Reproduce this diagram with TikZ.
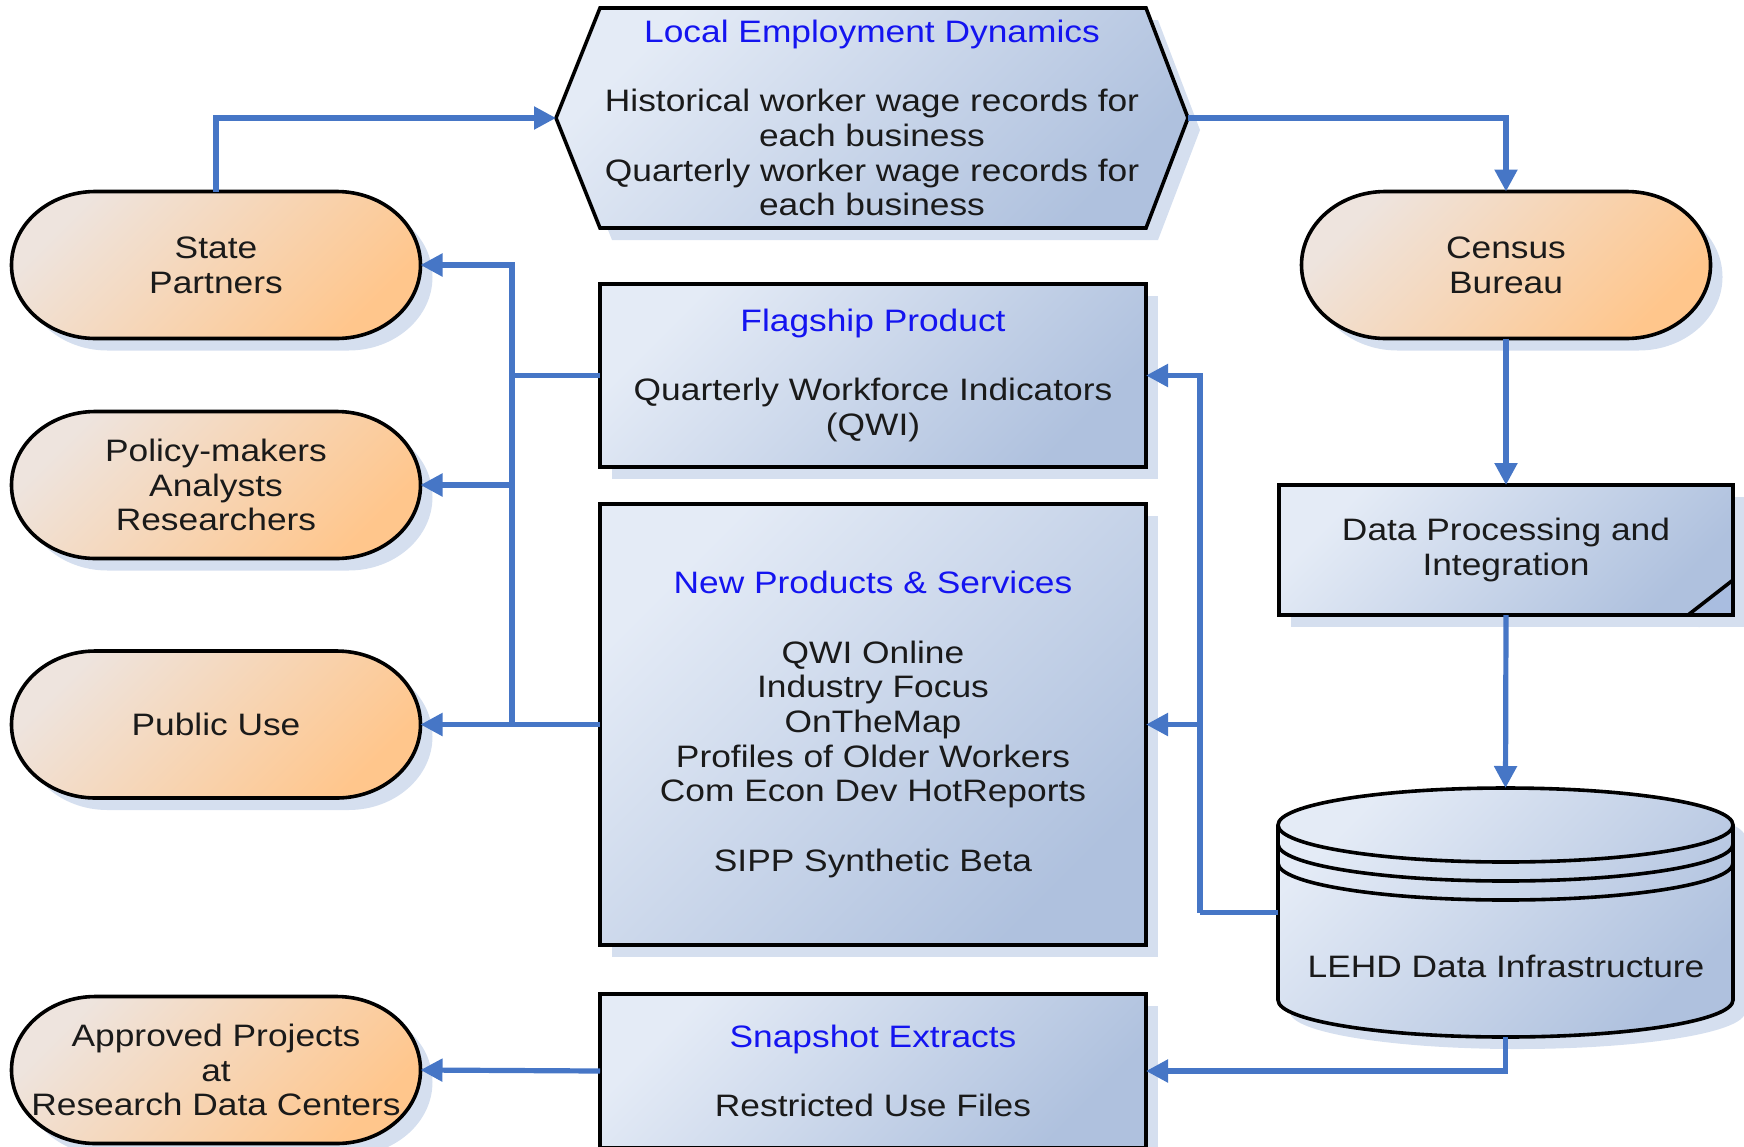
\documentclass[tikz,border=0pt]{standalone}
\usepackage{fontspec}
\setmainfont{Liberation Sans}[FakeStretch=1.14]
\usetikzlibrary{arrows.meta,backgrounds,shadows,calc}
\definecolor{connblue}{HTML}{4676C6}
\definecolor{shad}{HTML}{D5DFEF}
\definecolor{shadline}{HTML}{BACBE8}
\definecolor{bluelight}{HTML}{E4EBF6}
\definecolor{bluedark}{HTML}{AFC1DE}
\definecolor{foldblue}{HTML}{A9BDE0}
\definecolor{orlight}{HTML}{EEE4DE}
\definecolor{ordark}{HTML}{FFC68C}
\definecolor{titleblue}{HTML}{1414F0}
\definecolor{txtblack}{HTML}{1A1A1A}
\tikzset{
  txt/.style={inner sep=0pt,outer sep=0pt,align=center,text=txtblack,
    font=\fontsize{15.5}{17.35}\selectfont},
  shapebase/.style={draw=black,line width=1.8pt,line join=miter,
    drop shadow={shadow xshift=6pt,shadow yshift=-6pt,fill=shad,opacity=1}},
  blueshape/.style={shapebase,top color=bluelight,bottom color=bluedark,shading angle=45},
  orshape/.style={shapebase,top color=orlight,bottom color=ordark,shading angle=45},
  connplain/.style={draw=connblue,line width=2.6pt},
  conn/.style={connplain,-{Triangle[length=11pt,width=11pt]}},
  stadnode/.style={txt,minimum width=204.5pt,minimum height=73.5pt},
}
\newcommand\drawstadium[1]{%
  \path[orshape] ([xshift=42pt]#1.north west) -- ([xshift=-42pt]#1.north east)
    arc[start angle=90,end angle=-90,x radius=42pt,y radius=36.75pt]
    -- ([xshift=42pt]#1.south west)
    arc[start angle=270,end angle=90,x radius=42pt,y radius=36.75pt] -- cycle;}
\begin{document}
\begin{tikzpicture}[x=0.5pt,y=-0.5pt]
\useasboundingbox (0,0) rectangle (1744,1146);

% ---- nodes ----
\node[txt,minimum width=316pt,minimum height=110pt] (led) at (872,118)
  {\textcolor{titleblue}{Local Employment Dynamics}\\[17.35pt]
   Historical worker wage records for\\ each business\\
   Quarterly worker wage records for\\ each business};
\node[txt,minimum width=273pt,minimum height=91.5pt] (flag) at (873,375.5)
  {\textcolor{titleblue}{Flagship Product}\\[17.35pt]
   Quarterly Workforce Indicators\\ (QWI)};
\node[txt,minimum width=273pt,minimum height=220.5pt] (newp) at (873,724.5)
  {\textcolor{titleblue}{New Products \& Services}\\[17.35pt]
   QWI Online\\ Industry Focus\\ OnTheMap\\ Profiles of Older Workers\\
   Com Econ Dev HotReports\\[17.35pt] SIPP Synthetic Beta};
\node[txt,minimum width=273pt,minimum height=77pt] (snap) at (873,1071)
  {\textcolor{titleblue}{Snapshot Extracts}\\[17.35pt] Restricted Use Files};
\node[txt,minimum width=227pt,minimum height=65pt] (dp) at (1506,550)
  {Data Processing and\\ Integration};
\node[txt,minimum width=227.5pt,minimum height=124.5pt] (lehd) at (1505.5,912.5) {};
\node[txt] (lehdtxt) at (1506,966) {LEHD Data Infrastructure};
\node[stadnode] (sp) at (216,265) {State\\ Partners};
\node[stadnode] (pm) at (216,485) {Policy-makers\\ Analysts\\ Researchers};
\node[stadnode] (pu) at (216,724.5) {Public Use};
\node[stadnode] (ap) at (216,1070) {Approved Projects\\ at\\ Research Data Centers};
\node[stadnode] (cb) at (1506,265) {Census\\ Bureau};

% ---- shapes ----
\begin{pgfonlayer}{background}
  \path[blueshape] (led.west) -- ([xshift=22pt]led.north west) -- ([xshift=-21pt]led.north east)
    -- (led.east) -- ([xshift=-21pt]led.south east) -- ([xshift=22pt]led.south west) -- cycle;
  \path[blueshape] (flag.north west) rectangle (flag.south east);
  \path[blueshape] (newp.north west) rectangle (newp.south east);
  \path[blueshape] (snap.north west) rectangle (snap.south east);
  \draw[shadline,line width=1.6pt] (1698,626) -- (1744,590);
  \path[blueshape] (dp.north west) rectangle (dp.south east);
  \fill[foldblue] (1688,615) -- (1733,580) -- (1733,615) -- cycle;
  \draw[line width=1.8pt,line join=miter] (1688,615) -- (1733,580) -- (1733,615) -- cycle;
  \path[blueshape] (1278,825) -- (1278,1000)
    arc[start angle=180,end angle=360,x radius=113.75pt,y radius=18.5pt]
    -- (1733,825)
    arc[start angle=0,end angle=180,x radius=113.75pt,y radius=18.5pt] -- cycle;
  \draw[line width=1.8pt] (1278,825) arc[start angle=180,end angle=360,x radius=113.75pt,y radius=18.5pt];
  \draw[line width=1.8pt] (1278,844) arc[start angle=180,end angle=360,x radius=113.75pt,y radius=18.5pt];
  \draw[line width=1.8pt] (1278,863) arc[start angle=180,end angle=360,x radius=113.75pt,y radius=18.5pt];
  \drawstadium{sp}
  \drawstadium{pm}
  \drawstadium{pu}
  \drawstadium{ap}
  \drawstadium{cb}
\end{pgfonlayer}

% ---- connectors ----
\draw[conn] (sp.north) |- (led.west);
\draw[conn] (led.east) -| (cb.north);
\draw[conn] (cb.south) -- (dp.north);
\draw[conn] (dp.south) -- (lehd.north);
\coordinate (rb) at (1200,912.5);
\draw[connplain] (lehd.west) -- (rb);
\draw[conn] (rb) |- (flag.east);
\draw[conn] (rb |- newp.east) -- (newp.east);
\draw[conn] (lehd.south) |- (snap.east);
\coordinate (lb) at (512,375.5);
\draw[connplain] (flag.west) -- (lb);
\draw[conn] (lb |- pu.east) -- (lb |- sp.east) -- (sp.east);
\draw[conn] (lb |- pm.east) -- (pm.east);
\draw[conn] (newp.west) -- (pu.east);
\draw[conn] (snap.west) -- (ap.east);
\end{tikzpicture}
\end{document}
